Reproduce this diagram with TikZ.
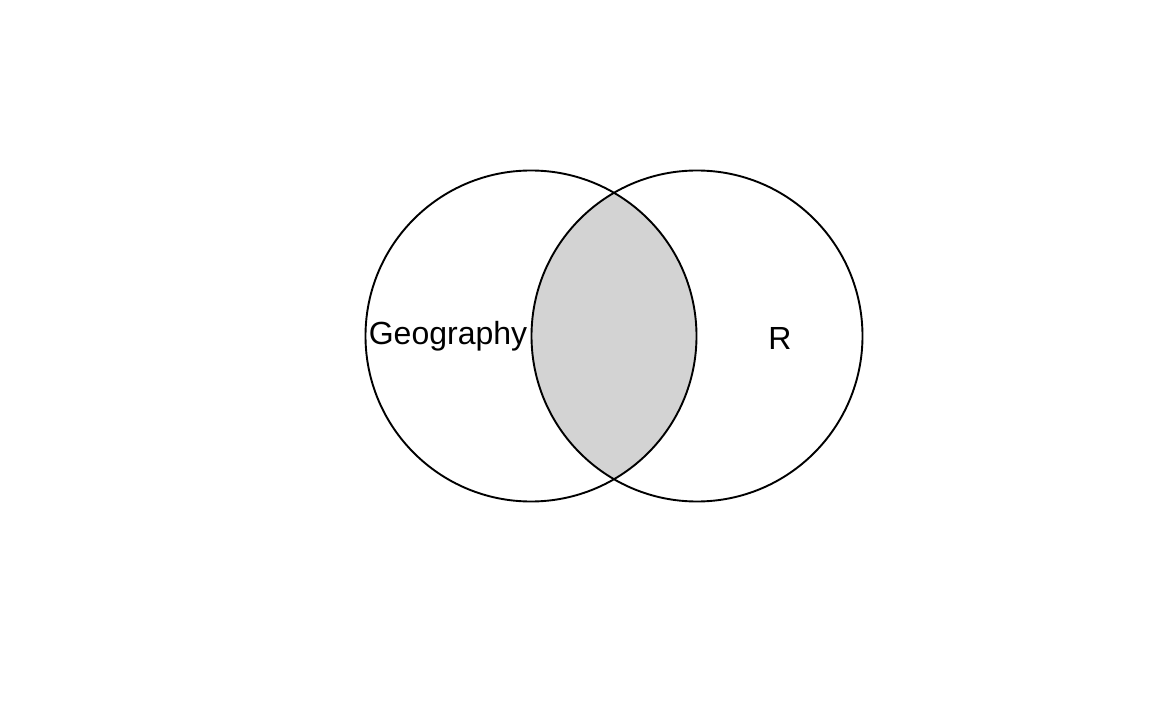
\documentclass[tikz,border=0pt]{standalone}
\usepackage{fontspec}
\setmainfont{Liberation Sans}
\begin{document}
\begin{tikzpicture}[x=0.5pt,y=-0.5pt,
  setcircle/.style={draw=black, line width=0.95pt},
  setlabel/.style={font=\fontsize{16}{19}\selectfont, inner sep=0pt}]
\useasboundingbox (0,0) rectangle (1152,711);
\coordinate (cL) at (531,336);
\coordinate (cR) at (697,336);
\begin{scope}
  \clip (cL) circle [radius=82.75pt];
  \fill[fill={rgb,255:red,211;green,211;blue,211}] (cR) circle [radius=82.75pt];
\end{scope}
\draw[setcircle] (cL) circle [radius=82.75pt];
\draw[setcircle] (cR) circle [radius=82.75pt];
\node[setlabel] (geo) at (448,336) {Geography};
\node[setlabel] (r) at (780,338) {R};
\end{tikzpicture}
\end{document}
